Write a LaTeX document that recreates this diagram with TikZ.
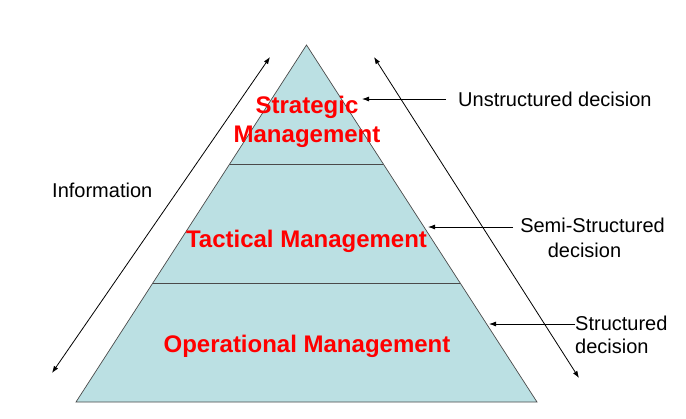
\documentclass[tikz,border=0pt]{standalone}
\usepackage{fontspec}
\setmainfont{Liberation Sans}
\usetikzlibrary{calc,arrows.meta}
\definecolor{pyrfill}{HTML}{BBE0E3}
\definecolor{pyredge}{HTML}{4A4A4A}
\definecolor{levelred}{HTML}{FF0000}
\begin{document}
\begin{tikzpicture}[x=1bp,y=-1bp,
  level/.style={font=\fontsize{24bp}{28bp}\selectfont\bfseries, text=levelred, inner sep=0pt, anchor=base},
  note/.style={font=\fontsize{20bp}{24bp}\selectfont, text=black, inner sep=0pt},
  pointer/.style={draw=black, line width=0.8bp, -{Latex[length=7bp,width=5bp]}},
  span/.style={draw=black, line width=0.8bp, {Latex[length=7bp,width=5bp]}-{Latex[length=7bp,width=5bp]}}]
\useasboundingbox (0,0) rectangle (686,418);

% pyramid outline
\coordinate (apex) at (306.5,45);
\coordinate (bl) at (76,402);
\coordinate (br) at (537,402);
\filldraw[fill=pyrfill, draw=pyredge, line width=0.7bp] (apex) -- (br) -- (bl) -- cycle;

% level dividers at one and two thirds of the height
\draw[pyredge, line width=0.8bp] ($(apex)!1/3!(bl)$) -- ($(apex)!1/3!(br)$);
\draw[pyredge, line width=0.8bp] ($(apex)!2/3!(bl)$) -- ($(apex)!2/3!(br)$);

% level labels
\node[level] (strat1) at (307,113) {Strategic};
\node[level] (strat2) at (307,142) {Management};
\node[level] (tact) at (306.5,247) {Tactical Management};
\node[level] (oper) at (307,352) {Operational Management};

% information flow along the left side
\node[note, anchor=base west] (info) at (52,197) {Information};
\coordinate (infolo) at (52,373);
\coordinate (infohi) at (270,57);
\draw[span] (infolo) -- (infohi);

% decision types along the right side
\coordinate (declo) at (579,378);
\coordinate (dechi) at (374,57);
\draw[span] (dechi) -- (declo);

\node[note, anchor=base west] (unstr) at (458,106) {Unstructured decision};
\coordinate (unstrtip) at (362,99);
\draw[pointer] (unstr.west |- unstrtip) ++(-12,0) coordinate (unstrtail) -- (unstrtip);

\node[note, anchor=base] (semi1) at (592.5,232) {Semi-Structured};
\node[note, anchor=base] (semi2) at (584.5,257) {decision};
\coordinate (semitip) at (428,227);
\coordinate (semitail) at (513,227);
\draw[pointer] (semitail) -- (semitip);

\node[note, anchor=base west] (str1) at (575,330) {Structured};
\node[note, anchor=base west] (str2) at (575,353) {decision};
\coordinate (strtip) at (489,324);
\draw[pointer] (str1.west |- strtip) -- (strtip);
\end{tikzpicture}
\end{document}
